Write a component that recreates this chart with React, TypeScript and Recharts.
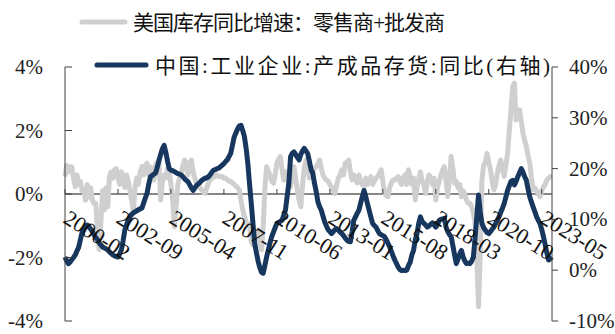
import React from "react"
import { LineChart, Line, XAxis, YAxis, ReferenceLine } from "recharts"

// 美国库存同比增速：零售商+批发商（左轴，%），2000-02 起按月
const usInventory = [
  0.55, 0.9, 0.7, 0.86, 0.85, 0.5, 0.23, 0.6, 0.3, 0.4, 0.1, 0.13,
  -0.2, 0.3, -0.1, 0.2, -0.2, -0.3, -0.29, -1.2, -1.75, -0.9, 0.1, -0.5,
  0.2, -0.4, 0.55, 0.7, 0.5, 0.76, 0.8, 0.5, 0.3, 0.7, 0.5, 0.2,
  0.6, 0.4, 0.1, -0.19, -0.55, 0.2, 0.5, 0.3, 0.7, 0.86, 0.6, 0.9,
  0.97, 0.6, 0.85, 0.7, 0.44, 0.9, 1.0, 1.07, -0.19, 0.4, 0.6, 0.5,
  0.8, 0.7, 0.3, -0.19, -1.03, -0.4, 0.3, 0.5, 0.65, 0.9, 1.07, 0.8,
  0.6, 1.0, 1.07, 0.7, 0.5, 0.34, 0.3, 0.2, 0.13, 0.05, 0.02, 0.2,
  0.35, 0.45, 0.5, 0.55, 0.55, 0.6, 0.55, 0.55, 0.55, 0.5, 0.5, 0.45,
  0.4, 0.4, 0.35, 0.3, 0.25, 0.2, 0.13, -0.2, -0.5, -0.7, -0.9, -0.92,
  -1.0, -1.5, -1.6, -1.13, -1.3, -1.13, -1.5, -1.76, -1.0, 0.2, 0.86, 0.7,
  0.6, 0.4, 0.34, 0.6, 0.97, 1.1, 1.18, 0.8, 0.44, 0.7, 0.5, 0.3,
  0.23, 0.6, 0.86, 0.5, 0.1, -0.2, -0.4, 0.3, 0.8, 1.07, 0.8, 0.5,
  0.6, 0.7, 0.8, 0.86, 0.95, 1.07, 0.8, 0.6, 0.5, 0.44, 0.4, 0.3,
  0.2, 0.1, 0.02, 0.3, 0.5, 0.6, 0.76, 0.6, 0.97, 1.0, 1.07, 0.7,
  0.44, 0.6, 0.5, 0.35, 0.6, 0.4, 0.3, 0.23, 0.5, 0.3, 0.4, 0.55,
  0.3, 0.4, 0.5, 0.55, 0.65, 0.76, 0.4, 0.02, -0.05, -0.08, 0.2, 0.35,
  0.44, 0.44, 0.5, 0.55, 0.4, 0.3, 0.5, 0.6, 0.3, 0.76, 0.5, 0.3,
  0.5, -0.19, 0.2, 0.5, 0.7, 0.4, 0.3, 0.02, 0.4, 0.6, 0.5, 0.3,
  0.5, -0.19, 0.2, 0.4, 0.6, 0.76, 0.86, 0.4, -0.08, 0.5, 1.18, 0.8,
  0.34, 0.4, 0.2, 0.3, -0.08, 0.1, 0.0, -0.2, -0.29, -0.3, -0.4, -0.6,
  -0.92, -1.97, -3.55, -1.9, 0.44, 0.9, 1.0, 1.28, 1.0, 0.76, 0.4, 0.13,
  0.3, 0.65, 0.9, 1.07, 0.8, 0.55, 0.9, 1.28, 2.0, 2.65, 3.38, 3.49,
  2.33, 2.5, 2.65, 2.3, 1.91, 1.7, 1.49, 1.2, 0.97, 0.5, 0.13, 0.2,
  0.1, 0.0, -0.08, 0.1, 0.23, 0.3, 0.44, 0.5, 0.55, 0.55,
]

// 中国:工业企业:产成品存货:同比（右轴，%）
const chinaInventory = [
  2.6, 1.8, 1.3, 1.6, 2.1, 2.5, 3.0, 3.8, 4.5, 6.0, 7.4, 8.2,
  8.6, 8.9, 8.6, 8.1, 7.6, 7.0, 6.4, 6.0, 5.4, 5.0, 4.6, 4.4,
  4.2, 4.0, 3.6, 3.3, 3.0, 2.8, 2.7, 2.6, 3.2, 4.0, 5.8, 7.9,
  8.9, 9.8, 10.5, 11.0, 11.3, 11.5, 11.7, 11.9, 12.1, 12.2, 13.2, 14.2,
  15.1, 16.9, 18.4, 18.6, 18.9, 19.1, 20.3, 21.6, 22.8, 23.9, 24.6, 23.2,
  21.5, 20.0, 19.7, 19.6, 19.4, 19.2, 19.0, 18.9, 18.7, 18.4, 18.0, 17.7,
  17.4, 16.8, 16.2, 15.7, 16.2, 16.7, 17.0, 17.3, 17.7, 17.9, 18.1, 18.2,
  18.4, 18.8, 19.3, 19.7, 19.8, 20.0, 20.1, 20.4, 20.7, 21.0, 21.4, 21.7,
  22.4, 23.0, 24.6, 26.2, 27.0, 27.8, 28.4, 28.5, 27.5, 26.3, 24.0, 21.0,
  17.0, 13.2, 9.2, 5.3, 3.5, 1.8, 0.5, -0.4, -0.6, 1.0, 2.6, 4.0,
  5.4, 6.6, 7.5, 8.4, 9.2, 9.4, 9.6, 9.8, 10.8, 11.8, 14.5, 17.1,
  22.3, 23.0, 23.3, 22.8, 22.2, 21.7, 22.8, 23.5, 24.0, 23.5, 23.0, 21.5,
  19.8, 19.1, 17.1, 15.5, 13.5, 12.5, 11.8, 10.6, 9.5, 8.7, 8.0, 7.6,
  7.2, 7.6, 8.0, 8.2, 7.9, 7.5, 7.2, 6.8, 6.3, 5.9, 5.7, 5.6,
  7.5, 9.8, 10.5, 11.2, 11.8, 13.2, 14.5, 15.7, 14.5, 13.1, 11.8, 10.5,
  9.2, 8.8, 8.5, 7.8, 7.2, 7.0, 6.8, 6.6, 6.0, 5.3, 4.6, 3.7,
  2.8, 2.0, 1.3, 0.6, 0.1, -0.1, 0.0, -0.1, 0.0, 0.9, 1.6, 3.0,
  3.9, 6.0, 7.2, 9.2, 10.5, 9.6, 9.2, 8.9, 8.5, 8.7, 9.0, 9.3,
  8.9, 8.5, 9.0, 9.8, 10.0, 10.1, 10.2, 8.5, 7.6, 7.0, 6.6, 4.8,
  3.0, 1.3, 2.2, 3.2, 3.9, 2.6, 1.8, 1.3, 1.4, 1.3, 1.8, 2.6,
  6.5, 10.5, 14.8, 11.5, 9.2, 8.4, 7.9, 7.4, 7.2, 7.6, 8.1, 8.5,
  9.2, 9.8, 10.5, 11.4, 12.2, 13.1, 14.4, 15.7, 16.6, 17.5, 17.7, 16.8,
  17.5, 18.4, 19.2, 20.0, 19.3, 18.4, 17.7, 16.0, 14.4, 13.4, 12.4, 11.5,
  10.5, 9.8, 9.2, 8.0, 6.6, 5.0, 3.4, 2.0, 2.3, 2.6,
]

const leftTicks = [-4, -2, 0, 2, 4]
const rightTicks = [-10, 0, 10, 20, 30, 40]
const legendLabels = ["美国库存同比增速：零售商+批发商", "中国:工业企业:产成品存货:同比(右轴)"]

const START_YEAR = 2000
const START_MONTH = 2

const months = usInventory.map((_, i) => {
  const m = START_MONTH - 1 + i
  return `${START_YEAR + Math.floor(m / 12)}-${String((m % 12) + 1).padStart(2, "0")}`
})

const data = months.map((month, i) => ({ month, us: usInventory[i], cn: chinaInventory[i] }))

const W = 615
const H = 334
const MARGIN = { top: 67, right: 0, bottom: 12, left: 0 }
const X_HEIGHT = 1
const PLOT_H = H - MARGIN.top - MARGIN.bottom - X_HEIGHT
// 左轴 -4%~4% 对称，0 线在绘图区正中
const ZERO_Y = MARGIN.top + PLOT_H / 2

const GRAY = "#d0cfcf"
const NAVY = "#17375e"
const AXIS = "#404040"
const SERIF = "'Liberation Serif', 'Times New Roman', serif"
const CJK = "'Liberation Serif', 'Noto Sans CJK SC', sans-serif"

const LeftTick = ({ x, y, payload }: any) => (
  <g>
    <line x1={x} y1={y} x2={x + 7} y2={y} stroke={AXIS} />
    <text x={x - 22} y={y} dy={7} textAnchor="end" fontFamily={SERIF} fontSize={21} fill="#222">
      {payload.value}%
    </text>
  </g>
)

const RightTick = ({ x, y, payload }: any) => (
  <g>
    <line x1={x} y1={y} x2={x + 6} y2={y} stroke={AXIS} />
    <text x={x + 17} y={y} dy={7} textAnchor="start" fontFamily={SERIF} fontSize={21} fill="#222">
      {payload.value}%
    </text>
  </g>
)

// 横轴标签画在 0 线下方，斜排
const XTick = ({ x, payload }: any) => {
  const tx = x - 3
  const ty = ZERO_Y + 28
  return (
    <g>
      <line x1={x} y1={ZERO_Y} x2={x} y2={ZERO_Y - 5} stroke={AXIS} />
      <text x={tx} y={ty} transform={`rotate(32 ${tx} ${ty})`} fontFamily={SERIF} fontSize={22} fill="#111">
        {payload.value}
      </text>
    </g>
  )
}

export default function App() {
  return (
    <div style={{ position: "absolute", left: 0, top: 0, width: W, height: H, background: "#fff" }}>
      <LineChart width={W} height={H} data={data} margin={MARGIN}>
        <XAxis
          dataKey="month"
          height={X_HEIGHT}
          interval={30}
          axisLine={false}
          tickLine={false}
          tickSize={0}
          tickMargin={0}
          tick={<XTick />}
        />
        <YAxis
          yAxisId="left"
          width={65}
          domain={[-4, 4]}
          ticks={leftTicks}
          axisLine={{ stroke: AXIS }}
          tickLine={false}
          tickSize={0}
          tickMargin={0}
          tick={<LeftTick />}
        />
        <YAxis
          yAxisId="right"
          orientation="right"
          width={63}
          domain={[-10, 40]}
          ticks={rightTicks}
          axisLine={{ stroke: AXIS }}
          tickLine={false}
          tickSize={0}
          tickMargin={0}
          tick={<RightTick />}
        />
        <ReferenceLine yAxisId="left" y={0} stroke="#111" strokeWidth={1} />
        <Line
          yAxisId="left"
          type="linear"
          dataKey="us"
          stroke={GRAY}
          strokeWidth={5}
          dot={false}
          strokeLinejoin="round"
          isAnimationActive={false}
        />
        <Line
          yAxisId="right"
          type="linear"
          dataKey="cn"
          stroke={NAVY}
          strokeWidth={5}
          dot={false}
          strokeLinejoin="round"
          isAnimationActive={false}
        />
      </LineChart>
      <svg width={W} height={H} style={{ position: "absolute", left: 0, top: 0, pointerEvents: "none" }}>
        <line x1={82} y1={22} x2={125} y2={22} stroke={GRAY} strokeWidth={5} strokeLinecap="round" />
        <text x={133} y={30} textLength={312} lengthAdjust="spacing" fontFamily={CJK} fontSize={21} fill="#111">
          {legendLabels[0]}
        </text>
        <line x1={97} y1={65} x2={146} y2={65} stroke={NAVY} strokeWidth={5} strokeLinecap="round" />
        <text x={155} y={73} textLength={395} lengthAdjust="spacing" fontFamily={CJK} fontSize={21} fill="#111">
          {legendLabels[1]}
        </text>
      </svg>
    </div>
  )
}
